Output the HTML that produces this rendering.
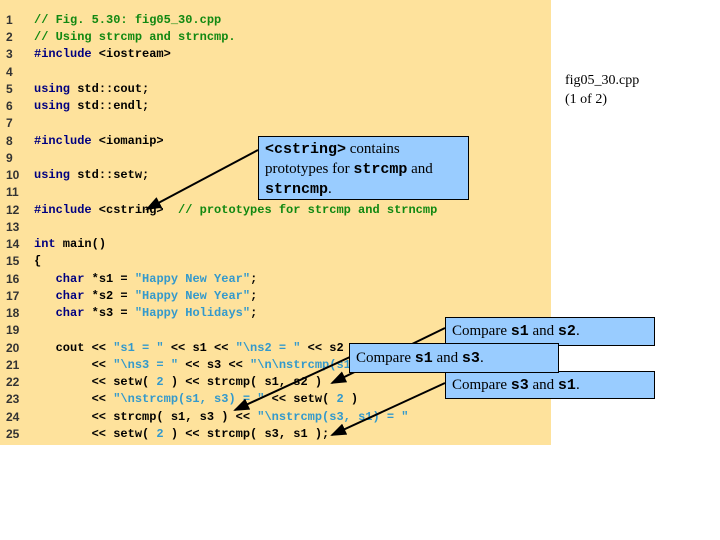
<!DOCTYPE html>
<html><head><meta charset="utf-8"><style>
body{margin:0;width:720px;height:540px;background:#fff;position:relative;overflow:hidden;font-family:"Liberation Sans",sans-serif}
#bg{position:absolute;left:0;top:0;width:551px;height:445px;background:#FEE29C}
.ln{position:absolute;left:6px;font:bold 12px "Liberation Sans",sans-serif;color:#333}
.cd{position:absolute;left:34px;font:bold 12px "Liberation Mono",monospace;color:#000;white-space:pre}
.c{color:#118811}.k{color:#000080}.s{color:#3399cc}
.box{position:absolute;background:#99CCFF;border:1px solid #000;font:15px "Liberation Serif",serif;color:#000;padding:0 6px;box-sizing:border-box;white-space:nowrap}
.box b{font:bold 15px "Liberation Mono",monospace}
#lbl{position:absolute;left:565px;top:71px;font:14px "Liberation Serif",serif;line-height:19px}
</style></head><body>
<div id="bg"></div>
<div class="ln" style="top:13px">1</div><div class="cd" style="top:13px"><span class="c">// Fig. 5.30: fig05_30.cpp</span></div>
<div class="ln" style="top:30px">2</div><div class="cd" style="top:30px"><span class="c">// Using strcmp and strncmp.</span></div>
<div class="ln" style="top:47px">3</div><div class="cd" style="top:47px"><span class="k">#include</span> &lt;iostream&gt;</div>
<div class="ln" style="top:65px">4</div>
<div class="ln" style="top:82px">5</div><div class="cd" style="top:82px"><span class="k">using</span> std::cout;</div>
<div class="ln" style="top:99px">6</div><div class="cd" style="top:99px"><span class="k">using</span> std::endl;</div>
<div class="ln" style="top:116px">7</div>
<div class="ln" style="top:134px">8</div><div class="cd" style="top:134px"><span class="k">#include</span> &lt;iomanip&gt;</div>
<div class="ln" style="top:151px">9</div>
<div class="ln" style="top:168px">10</div><div class="cd" style="top:168px"><span class="k">using</span> std::setw;</div>
<div class="ln" style="top:185px">11</div>
<div class="ln" style="top:203px">12</div><div class="cd" style="top:203px"><span class="k">#include</span> &lt;cstring&gt;  <span class="c">// prototypes for strcmp and strncmp</span></div>
<div class="ln" style="top:220px">13</div>
<div class="ln" style="top:237px">14</div><div class="cd" style="top:237px"><span class="k">int</span> main()</div>
<div class="ln" style="top:254px">15</div><div class="cd" style="top:254px">{</div>
<div class="ln" style="top:272px">16</div><div class="cd" style="top:272px">   <span class="k">char</span> *s1 = <span class="s">"Happy New Year"</span>;</div>
<div class="ln" style="top:289px">17</div><div class="cd" style="top:289px">   <span class="k">char</span> *s2 = <span class="s">"Happy New Year"</span>;</div>
<div class="ln" style="top:306px">18</div><div class="cd" style="top:306px">   <span class="k">char</span> *s3 = <span class="s">"Happy Holidays"</span>;</div>
<div class="ln" style="top:323px">19</div>
<div class="ln" style="top:341px">20</div><div class="cd" style="top:341px">   cout &lt;&lt; <span class="s">"s1 = "</span> &lt;&lt; s1 &lt;&lt; <span class="s">"\ns2 = "</span> &lt;&lt; s2</div>
<div class="ln" style="top:358px">21</div><div class="cd" style="top:358px">        &lt;&lt; <span class="s">"\ns3 = "</span> &lt;&lt; s3 &lt;&lt; <span class="s">"\n\nstrcmp(s1, s2) = "</span></div>
<div class="ln" style="top:375px">22</div><div class="cd" style="top:375px">        &lt;&lt; setw( <span class="s">2</span> ) &lt;&lt; strcmp( s1, s2 )</div>
<div class="ln" style="top:392px">23</div><div class="cd" style="top:392px">        &lt;&lt; <span class="s">"\nstrcmp(s1, s3) = "</span> &lt;&lt; setw( <span class="s">2</span> )</div>
<div class="ln" style="top:410px">24</div><div class="cd" style="top:410px">        &lt;&lt; strcmp( s1, s3 ) &lt;&lt; <span class="s">"\nstrcmp(s3, s1) = "</span></div>
<div class="ln" style="top:427px">25</div><div class="cd" style="top:427px">        &lt;&lt; setw( <span class="s">2</span> ) &lt;&lt; strcmp( s3, s1 );</div>

<div id="lbl">fig05_30.cpp<br>(1 of 2)</div>

<svg width="720" height="540" style="position:absolute;left:0;top:0">
<defs><marker id="a" markerWidth="8" markerHeight="6" refX="7" refY="3" orient="auto"><path d="M0,0 L8,3 L0,6 z" fill="#000"/></marker></defs>
<g stroke="#000" stroke-width="2" marker-end="url(#a)">
<line x1="258" y1="150" x2="147" y2="209"/>
<line x1="445" y1="328" x2="332" y2="383"/>
<line x1="350" y1="357" x2="235" y2="410"/>
<line x1="445" y1="383" x2="332" y2="435"/>
</g></svg>

<div class="box" style="left:258px;top:136px;width:211px;height:64px;line-height:20px;padding-top:2px"><b>&lt;cstring&gt;</b> contains<br>prototypes for <b>strcmp</b> and<br><b>strncmp</b>.</div>
<div class="box" style="left:445px;top:317px;width:210px;height:29px;line-height:27px">Compare <b>s1</b> and <b>s2</b>.</div>
<div class="box" style="left:445px;top:371px;width:210px;height:28px;line-height:27px">Compare <b>s3</b> and <b>s1</b>.</div>
<div class="box" style="left:349px;top:343px;width:210px;height:30px;line-height:28px">Compare <b>s1</b> and <b>s3</b>.</div>
</body></html>
